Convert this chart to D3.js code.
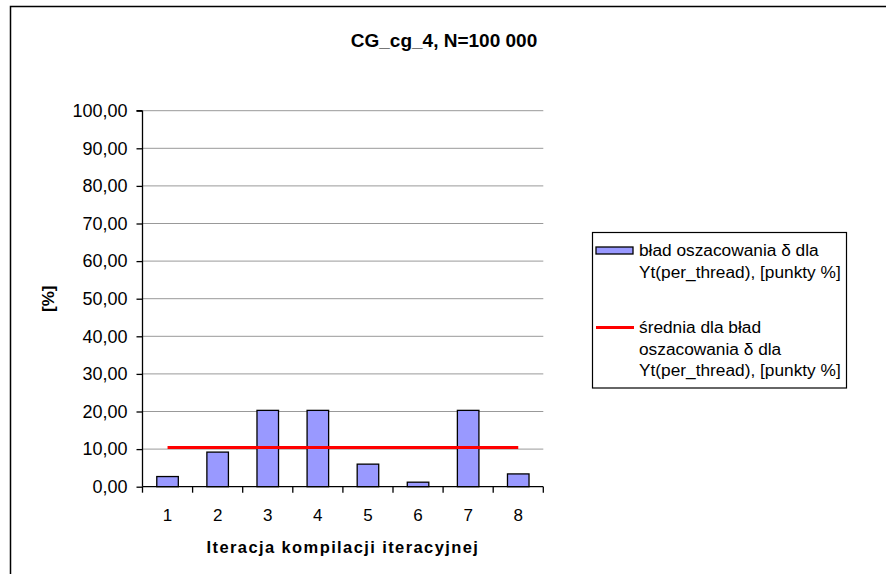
<!DOCTYPE html>
<html>
<head>
<meta charset="utf-8">
<script src="https://cdn.jsdelivr.net/npm/d3@7"></script>
<style>
  body { margin: 0; background: #fff; }
  svg { display: block; font-family: Arial, "Liberation Sans", sans-serif; }
</style>
</head>
<body>
<script>
// Chart data
const categories = ['1', '2', '3', '4', '5', '6', '7', '8']
const errValues = [2.7, 9.2, 20.3, 20.3, 6.0, 1.2, 20.3, 3.4]
const meanValues = [10.45, 10.45, 10.45, 10.45, 10.45, 10.45, 10.45, 10.45]
const yTicks = [0, 10, 20, 30, 40, 50, 60, 70, 80, 90, 100]

const titleText = 'CG_cg_4, N=100 000'
const xTitle = 'Iteracja kompilacji iteracyjnej'
const yTitle = '[%]'
const legendBar = ['bład oszacowania δ dla', 'Yt(per_thread), [punkty %]']
const legendLine = ['średnia dla bład', 'oszacowania δ dla', 'Yt(per_thread), [punkty %]']

const width = 886, height = 574
const plot = {left: 142.5, right: 543.3, top: 110.7, bottom: 486.7}

const svg = d3.select('body').append('svg')
  .attr('width', width).attr('height', height)

// outer chart border (runs off the right and bottom edge)
svg.append('rect')
  .attr('x', 10.5).attr('y', 6.5)
  .attr('width', 900).attr('height', 600)
  .style('fill', 'white').style('stroke', 'black').style('stroke-width', 1.5)

const x = d3.scaleBand().domain(categories).range([plot.left, plot.right])
const y = d3.scaleLinear().domain([0, 100]).range([plot.bottom, plot.top])

// gridlines
svg.append('g').selectAll('line').data(yTicks.filter(d => d > 0)).join('line')
  .attr('x1', plot.left).attr('x2', plot.right)
  .attr('y1', d => y(d)).attr('y2', d => y(d))
  .style('stroke', '#999').style('stroke-width', 1)

// y axis
const yAxis = svg.append('g')
  .attr('transform', `translate(${plot.left},0)`)
  .call(d3.axisLeft(y).tickValues(yTicks).tickSize(6).tickPadding(9)
    .tickFormat(d => d3.format('.2f')(d).replace('.', ',')))
yAxis.selectAll('text').style('font-size', '18px').style('fill', '#000')
yAxis.selectAll('line, path').style('stroke', '#000').style('stroke-width', 1.3)
yAxis.select('.domain').attr('d', `M0,${plot.bottom}V${plot.top}M-6,${plot.top}H0`)

// bars
svg.append('g').selectAll('rect').data(errValues).join('rect')
  .attr('x', (d, i) => x(categories[i]) + x.bandwidth() * 0.285)
  .attr('width', x.bandwidth() * 0.43)
  .attr('y', d => y(d))
  .attr('height', d => y(0) - y(d))
  .style('fill', '#9999FF').style('stroke', '#000').style('stroke-width', 1.3)

// x axis
const xAxis = svg.append('g')
  .attr('transform', `translate(0,${plot.bottom})`)
  .call(d3.axisBottom(x).tickSize(0).tickPadding(22))
xAxis.selectAll('text').style('font-size', '17px').style('fill', '#000')
xAxis.select('.domain').attr('d', `M${plot.left},0H${plot.right}`)
  .style('stroke', '#000').style('stroke-width', 1.3)
xAxis.selectAll('.bound').data(d3.range(categories.length + 1)).join('line')
  .attr('class', 'bound')
  .attr('x1', i => plot.left + i * x.step()).attr('x2', i => plot.left + i * x.step())
  .attr('y1', 0).attr('y2', 6)
  .style('stroke', '#000').style('stroke-width', 1.3)

// mean line
const line = d3.line()
  .x((d, i) => x(categories[i]) + x.bandwidth() / 2)
  .y(d => y(d))
svg.append('path').datum(meanValues)
  .attr('d', line)
  .style('fill', 'none').style('stroke', '#FF0000').style('stroke-width', 3)

// titles
svg.append('text')
  .attr('x', 444).attr('y', 47)
  .attr('text-anchor', 'middle')
  .style('font-size', '19px').style('font-weight', 'bold')
  .text(titleText)

svg.append('text')
  .attr('x', (plot.left + plot.right) / 2).attr('y', 553)
  .attr('text-anchor', 'middle')
  .style('font-size', '16.5px').style('font-weight', 'bold').style('letter-spacing', '1.4px')
  .text(xTitle)

svg.append('text')
  .attr('transform', `translate(54,${(plot.top + plot.bottom) / 2}) rotate(-90)`)
  .attr('text-anchor', 'middle')
  .style('font-size', '17px').style('font-weight', 'bold')
  .text(yTitle)

// legend
const lg = svg.append('g')
lg.append('rect')
  .attr('x', 592.5).attr('y', 232.5).attr('width', 254).attr('height', 155.5)
  .style('fill', 'white').style('stroke', '#000').style('stroke-width', 1.2)
lg.append('rect')
  .attr('x', 596).attr('y', 247).attr('width', 37).attr('height', 7)
  .style('fill', '#9999FF').style('stroke', '#000').style('stroke-width', 1.3)
lg.append('line')
  .attr('x1', 596).attr('x2', 634).attr('y1', 327.5).attr('y2', 327.5)
  .style('stroke', '#FF0000').style('stroke-width', 3)

const lineH = 21.7
lg.append('text').attr('x', 639).attr('y', 256)
  .style('font-size', '17.3px')
  .selectAll('tspan').data(legendBar).join('tspan')
  .attr('x', 639).attr('dy', (d, i) => i ? lineH : 0)
  .text(d => d)
lg.append('text').attr('x', 639).attr('y', 333)
  .style('font-size', '17.3px')
  .selectAll('tspan').data(legendLine).join('tspan')
  .attr('x', 639).attr('dy', (d, i) => i ? lineH : 0)
  .text(d => d)
</script>
</body>
</html>
